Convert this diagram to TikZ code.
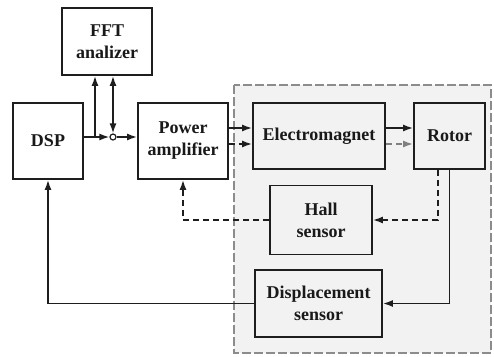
\documentclass[tikz,border=0pt]{standalone}
\usepackage{fontspec}
\setmainfont{Liberation Serif}
\usepackage{xcolor}
\usetikzlibrary{positioning, arrows.meta, calc}
\definecolor{boxline}{RGB}{30,30,30}
\definecolor{txt}{RGB}{25,25,25}
\definecolor{regionbg}{RGB}{242,242,242}
\definecolor{regionline}{RGB}{140,140,140}
\tikzset{
  block/.style={
    rectangle, draw=boxline, line width=1.8pt, align=center,
    font=\fontsize{18}{22}\selectfont\bfseries, text=txt, inner sep=0pt
  },
  sig/.style={draw=boxline, line width=1.6pt, -{Latex[length=10pt,width=7pt]}},
  feedback/.style={sig, dash pattern=on 6pt off 4pt},
  region/.style={draw=regionline, fill=regionbg, line width=2.8pt,
    dash pattern=on 9pt off 3pt},
}
\begin{document}
\begin{tikzpicture}[x=1pt, y=-1pt]
  \useasboundingbox (0,0) rectangle (494,356);
  \path[region] (234,85) rectangle (491,353);

  \node[block, minimum width=90pt, minimum height=67pt] (fft) at (107,41.5) {FFT\\analizer};
  \node[block, minimum width=70pt, minimum height=76pt] (dsp) at (48,141) {DSP};
  \node[block, minimum width=90pt, minimum height=76pt] (amp) at (183,141) {Power\\amplifier};
  \node[block, fill=regionbg, minimum width=132pt, minimum height=66pt] (em) at (319,136) {Electromagnet};
  \node[block, fill=regionbg, minimum width=71pt, minimum height=66pt] (rotor) at (449.5,136) {Rotor};
  \node[block, fill=regionbg, minimum width=102pt, minimum height=69pt] (hall) at (321,220) {Hall\\sensor};
  \node[block, fill=regionbg, minimum width=127pt, minimum height=67pt] (disp) at (318.5,303.5) {Displacement\\sensor};

  \node[circle, draw=boxline, line width=1.2pt, fill=white, inner sep=0pt, minimum size=6pt] (jn) at (113,137) {};
  \coordinate (br) at (95,137);

  % measurement path
  \draw[sig] (dsp.east |- jn) -- (jn);
  \draw[sig] (br) -- (br |- fft.south);
  \draw[sig, {Latex[length=10pt,width=7pt]}-{Latex[length=10pt,width=7pt]}] (jn) -- (jn |- fft.south);
  \draw[sig] (jn) -- (amp.west |- jn);

  % drive
  \draw[sig] (amp.east |- 0,128) -- (em.west |- 0,128);
  \draw[feedback] (amp.east |- 0,144) -- (em.west |- 0,144);
  \draw[sig] (em.east |- 0,128) -- (rotor.west |- 0,128);
  \draw[feedback, draw=gray] (em.east |- 0,144) -- (rotor.west |- 0,144);

  % current loop
  \draw[feedback] ([xshift=-11.5pt]rotor.south) |- (hall.east);
  \draw[feedback] (hall.west) -| (amp.south);

  % position loop
  \draw[sig] (rotor.south) |- (disp.east);
  \draw[sig] (disp.west) -| (dsp.south);
\end{tikzpicture}
\end{document}
